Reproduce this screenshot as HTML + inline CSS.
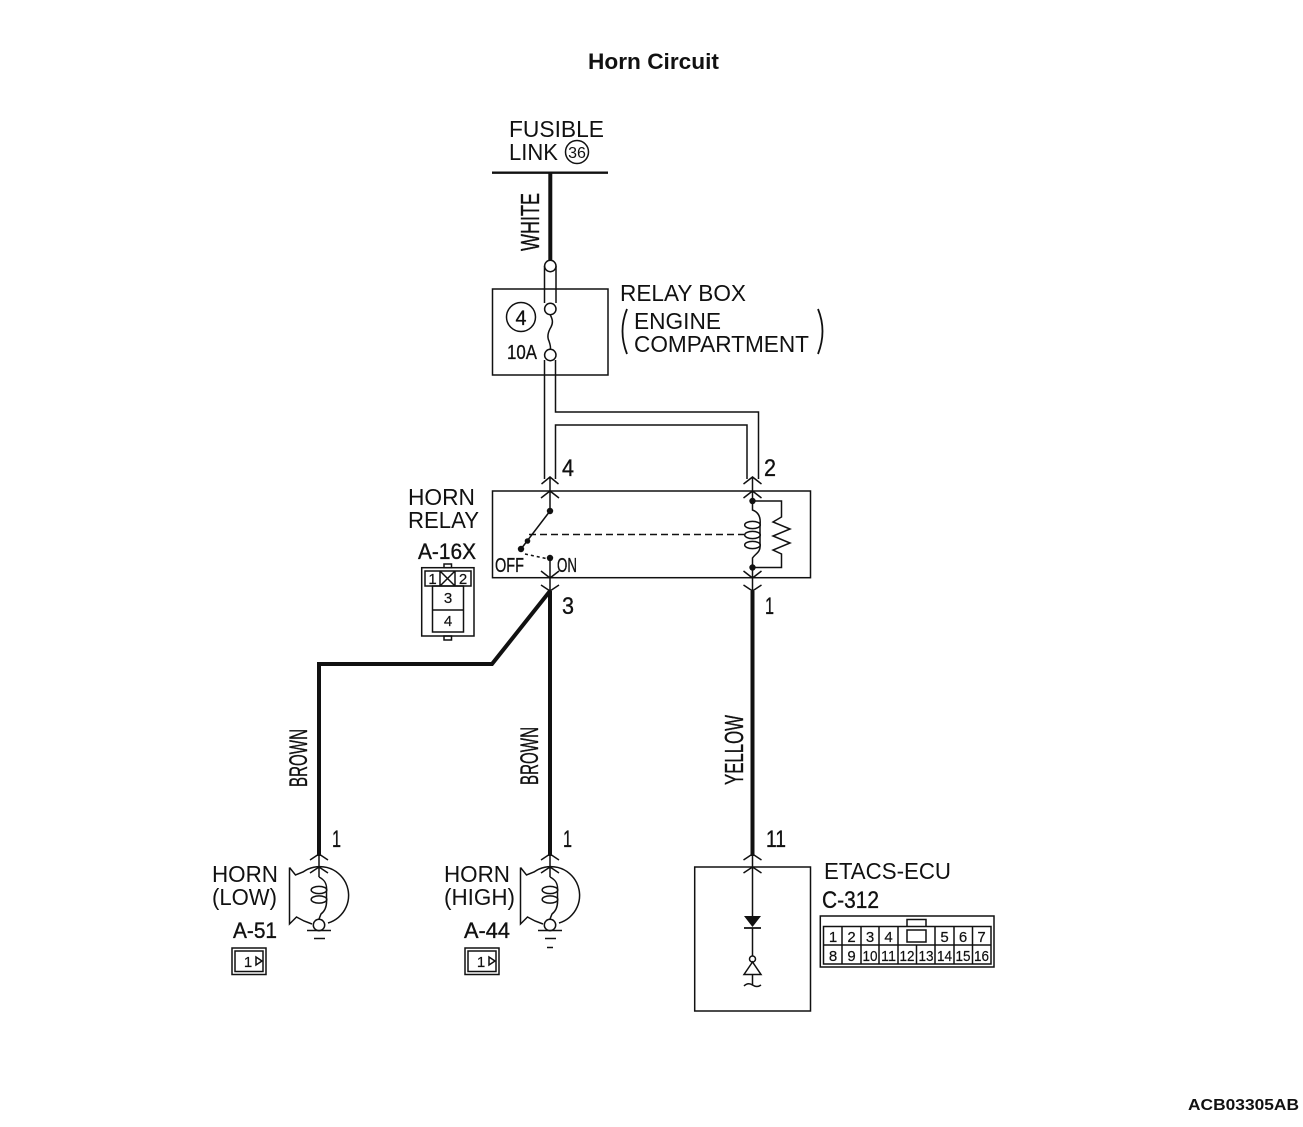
<!DOCTYPE html>
<html><head><meta charset="utf-8"><style>
html,body{margin:0;padding:0;background:#fff}
svg{display:block}
text{font-family:"Liberation Sans",sans-serif;fill:#111}
.l{font-size:23px}
.n{font-size:25px;stroke:#111;stroke-width:.35}
.s{font-size:15px;stroke:#111;stroke-width:.2}
.t{stroke:#111;stroke-width:1.5;fill:none}
.w{stroke:#111;stroke-width:4;fill:none}
.m{stroke:#111;stroke-width:1.8;fill:none}
</style></head><body>
<svg width="1303" height="1127" viewBox="0 0 1303 1127" xmlns="http://www.w3.org/2000/svg">
<rect width="1303" height="1127" fill="#fff"/>
<text x="588" y="69" font-size="22" font-weight="bold" textLength="131" lengthAdjust="spacingAndGlyphs">Horn Circuit</text>
<text x="1188" y="1110" font-size="16" font-weight="bold" textLength="111" lengthAdjust="spacingAndGlyphs">ACB03305AB</text>

<!-- fusible link -->
<text class="l" x="509" y="137" textLength="95" lengthAdjust="spacingAndGlyphs">FUSIBLE</text>
<text class="l" x="509" y="160" textLength="49" lengthAdjust="spacingAndGlyphs">LINK</text>
<circle class="t" cx="577" cy="152" r="11.5"/>
<text x="577" y="158" font-size="16" text-anchor="middle">36</text>
<path d="M492 172.7H608" stroke="#111" stroke-width="2.4"/>
<path class="w" d="M550.3 173V260"/>
<text class="n" style="font-size:26px" transform="translate(539,251) rotate(-90)" textLength="58" lengthAdjust="spacingAndGlyphs">WHITE</text>

<!-- relay box -->
<rect class="t" x="492.5" y="289" width="115.5" height="86"/>
<path class="t" d="M544.5 266V303M556 266V303"/>
<circle class="t" cx="550.3" cy="266" r="5.7" style="fill:#fff"/>
<circle class="t" cx="550.3" cy="309" r="5.7" style="fill:#fff"/>
<circle class="t" cx="550.3" cy="355" r="5.7" style="fill:#fff"/>
<path class="t" d="M550.3 315C553 320 553 323 551 327C548 332 547 337 549 341C550 344 551 347 550.3 349"/>
<circle class="t" cx="521" cy="317" r="14.5"/>
<text x="521" y="325" font-size="21" text-anchor="middle" stroke="#111" stroke-width=".3" textLength="11" lengthAdjust="spacingAndGlyphs">4</text>
<text x="507" y="359" font-size="20" stroke="#111" stroke-width=".3" textLength="30" lengthAdjust="spacingAndGlyphs">10A</text>
<text class="l" x="620" y="301" textLength="126" lengthAdjust="spacingAndGlyphs">RELAY BOX</text>
<text class="l" x="634" y="329" textLength="87" lengthAdjust="spacingAndGlyphs">ENGINE</text>
<text class="l" x="634" y="352" textLength="175" lengthAdjust="spacingAndGlyphs">COMPARTMENT</text>
<path class="m" d="M627 309Q618 331 627 354M818 309Q827 331 818 354"/>

<!-- white double wires -->
<path class="t" d="M544.5 360V479M555.5 360V412H758.5V479M555.5 479V425H747V479"/>
<text class="n" style="font-size:24px" x="562" y="476" textLength="12" lengthAdjust="spacingAndGlyphs">4</text>
<text class="n" style="font-size:24px" x="764" y="476" textLength="12" lengthAdjust="spacingAndGlyphs">2</text>

<!-- relay -->
<rect class="t" x="492.5" y="491" width="318" height="86.7"/>
<text class="l" x="408" y="505" textLength="67" lengthAdjust="spacingAndGlyphs">HORN</text>
<text class="l" x="408" y="528" textLength="71" lengthAdjust="spacingAndGlyphs">RELAY</text>
<text class="n" style="font-size:22px" x="418" y="559" textLength="58" lengthAdjust="spacingAndGlyphs">A-16X</text>
<path class="t" d="M541.5 484L550 477L558.5 484M541 498L550 491L559 498M550 477V511"/>
<path class="t" d="M743.5 484L752.5 477L761.5 484M743.5 498L752.5 491L761.5 498M752.5 477V501"/>
<circle cx="550" cy="511" r="3.2" fill="#111"/>
<path class="t" d="M550 511L521 549"/>
<circle cx="521" cy="549" r="3.2" fill="#111"/>
<circle cx="527.5" cy="541" r="2.8" fill="#111"/>
<path class="t" d="M529 534.5H744" stroke-dasharray="7 4"/>
<path class="t" d="M525 554L546 558.5" stroke-dasharray="3 3"/>
<circle cx="550" cy="558" r="3.2" fill="#111"/>
<path class="t" d="M550 558V604M541 571L550 578L559 571M541 585L550 591L559 585"/>
<text x="495" y="572" font-size="20" stroke="#111" stroke-width=".3" textLength="29" lengthAdjust="spacingAndGlyphs">OFF</text>
<text x="557" y="572" font-size="20" stroke="#111" stroke-width=".3" textLength="20" lengthAdjust="spacingAndGlyphs">ON</text>

<circle cx="752.5" cy="501" r="3.2" fill="#111"/>
<circle cx="752.5" cy="567.5" r="3.2" fill="#111"/>
<path class="t" d="M752.5 501H781.5V517L773 522L790 529L773 536L790 543L773 550L781.5 554V567.5H752.5"/>
<path class="t" d="M752.5 501V510C758 512 761 517 760 525M760 525V545M760 545C761 552 755 554 752.5 558V568"/>
<ellipse class="t" cx="752.5" cy="525" rx="7.8" ry="3.6"/>
<ellipse class="t" cx="752.5" cy="535" rx="7.8" ry="3.6"/>
<ellipse class="t" cx="752.5" cy="545" rx="7.8" ry="3.6"/>
<path class="t" d="M743.5 571L752.5 578L761.5 571M743.5 585L752.5 591L761.5 585M752.5 568V591"/>

<!-- A-16X connector -->
<rect class="t" x="421.7" y="567.7" width="52.3" height="68.3"/>
<rect class="t" x="444" y="564" width="7.5" height="3.7"/>
<rect class="t" x="444" y="636" width="7.5" height="4"/>
<rect class="t" x="425" y="571" width="46" height="15"/>
<path class="t" d="M440 571V586M455 571V586M440 571L455 586M455 571L440 586"/>
<rect class="t" x="432.5" y="586" width="31" height="46"/>
<path class="t" d="M432.5 610H463.5"/>
<text class="s" x="432.5" y="584" text-anchor="middle">1</text>
<text class="s" x="463" y="584" text-anchor="middle">2</text>
<text class="s" x="448" y="603" text-anchor="middle">3</text>
<text class="s" x="448" y="626" text-anchor="middle">4</text>

<!-- thick wires -->
<path class="w" d="M550 591L492 664H319V856"/>
<path class="w" d="M550 591V856"/>
<path class="w" d="M752.5 591V856"/>
<text class="n" style="font-size:24px" x="562" y="614" textLength="12" lengthAdjust="spacingAndGlyphs">3</text>
<text class="n" style="font-size:24px" x="765" y="614" textLength="9" lengthAdjust="spacingAndGlyphs">1</text>
<text class="n" transform="translate(307,787) rotate(-90)" textLength="58" lengthAdjust="spacingAndGlyphs">BROWN</text>
<text class="n" transform="translate(538,785) rotate(-90)" textLength="58" lengthAdjust="spacingAndGlyphs">BROWN</text>
<text class="n" style="font-size:26px" transform="translate(743,785) rotate(-90)" textLength="70" lengthAdjust="spacingAndGlyphs">YELLOW</text>
<text class="n" style="font-size:24px" x="332" y="847" textLength="9" lengthAdjust="spacingAndGlyphs">1</text>
<text class="n" style="font-size:24px" x="563" y="847" textLength="9" lengthAdjust="spacingAndGlyphs">1</text>
<text class="n" style="font-size:24px" x="766" y="847" textLength="20" lengthAdjust="spacingAndGlyphs">11</text>

<!-- horn low -->
<g>
<path class="t" d="M310 860L319 854L328 860M310 873L319 867L328 873M319 854V877"/>
<path class="t" d="M289.5 867.5L295.5 875L303 872A28.8 28.8 0 1 1 328 923M289.5 867.5V924L296.5 917L304 921L312 924"/>
<path class="t" d="M319 877C325 880 327 884 326.5 890V899C327 906 325 911 321 914L319 919"/>
<ellipse class="t" cx="319" cy="890" rx="7.8" ry="3.6"/>
<ellipse class="t" cx="319" cy="899.5" rx="7.8" ry="3.6"/>
<circle class="t" cx="319" cy="925" r="5.7"/>
<path class="t" d="M307 930.5H331M314 938.5H325"/>
</g>
<text class="l" x="212" y="882" textLength="66" lengthAdjust="spacingAndGlyphs">HORN</text>
<text class="l" x="212" y="905" textLength="65" lengthAdjust="spacingAndGlyphs">(LOW)</text>
<text class="n" style="font-size:22px" x="233" y="938" textLength="44" lengthAdjust="spacingAndGlyphs">A-51</text>
<rect class="t" x="232" y="948" width="34" height="26.5"/>
<rect class="t" x="235" y="951" width="28" height="20.5"/>
<text class="s" x="248" y="967" text-anchor="middle">1</text>
<path class="t" d="M256 957L262 961L256 965Z"/>

<!-- horn high -->
<g transform="translate(231,0)">
<path class="t" d="M310 860L319 854L328 860M310 873L319 867L328 873M319 854V877"/>
<path class="t" d="M289.5 867.5L295.5 875L303 872A28.8 28.8 0 1 1 328 923M289.5 867.5V924L296.5 917L304 921L312 924"/>
<path class="t" d="M319 877C325 880 327 884 326.5 890V899C327 906 325 911 321 914L319 919"/>
<ellipse class="t" cx="319" cy="890" rx="7.8" ry="3.6"/>
<ellipse class="t" cx="319" cy="899.5" rx="7.8" ry="3.6"/>
<circle class="t" cx="319" cy="925" r="5.7"/>
<path class="t" d="M307 930.5H331M314 938.5H325M316 947.5H322"/>
</g>
<text class="l" x="444" y="882" textLength="66" lengthAdjust="spacingAndGlyphs">HORN</text>
<text class="l" x="444" y="905" textLength="71" lengthAdjust="spacingAndGlyphs">(HIGH)</text>
<text class="n" style="font-size:22px" x="464" y="938" textLength="46" lengthAdjust="spacingAndGlyphs">A-44</text>
<rect class="t" x="465" y="948" width="34" height="26.5"/>
<rect class="t" x="468" y="951" width="28" height="20.5"/>
<text class="s" x="481" y="967" text-anchor="middle">1</text>
<path class="t" d="M489 957L495 961L489 965Z"/>

<!-- ETACS -->
<rect class="t" x="694.7" y="867" width="115.8" height="144"/>
<path class="t" d="M743.5 860L752.5 854L761.5 860M743.5 873L752.5 867L761.5 873M752.5 854V916M752.5 928V956"/>
<path d="M744 916H761L752.5 927Z" fill="#111"/>
<path class="m" d="M744 928H761"/>
<circle class="t" cx="752.5" cy="959" r="3"/>
<path class="t" d="M752.5 962L744 974.5H761Z M752.5 975V985M744 986Q748 982 752.5 985Q757 988 761 985"/>
<text class="l" x="824" y="879" textLength="127" lengthAdjust="spacingAndGlyphs">ETACS-ECU</text>
<text class="n" style="font-size:24px" x="822" y="908" textLength="57" lengthAdjust="spacingAndGlyphs">C-312</text>
<rect class="t" x="820.3" y="916" width="173.7" height="51"/>
<rect class="t" x="823.5" y="926.5" width="167.5" height="37.5"/>
<path class="t" d="M823.5 945H991M842 926.5V964M861 926.5V964M879 926.5V964M898 926.5V964M935 926.5V964M954 926.5V964M972.5 926.5V964M916.5 945V964"/>
<rect class="t" x="907" y="930" width="19" height="12"/>
<path class="t" d="M907 926.5V919.5H926V926.5"/>
<g class="s" text-anchor="middle">
<text x="833" y="942">1</text><text x="851.5" y="942">2</text><text x="870" y="942">3</text><text x="888.5" y="942">4</text>
<text x="944.5" y="942">5</text><text x="963" y="942">6</text><text x="981.5" y="942">7</text>
<text x="833" y="961">8</text><text x="851.5" y="961">9</text><text x="870" y="961" textLength="15" lengthAdjust="spacingAndGlyphs">10</text><text x="888.5" y="961" textLength="15" lengthAdjust="spacingAndGlyphs">11</text><text x="907" y="961" textLength="15" lengthAdjust="spacingAndGlyphs">12</text><text x="926" y="961" textLength="15" lengthAdjust="spacingAndGlyphs">13</text><text x="944.5" y="961" textLength="15" lengthAdjust="spacingAndGlyphs">14</text><text x="963" y="961" textLength="15" lengthAdjust="spacingAndGlyphs">15</text><text x="981.5" y="961" textLength="15" lengthAdjust="spacingAndGlyphs">16</text>
</g>
</svg>
</body></html>
